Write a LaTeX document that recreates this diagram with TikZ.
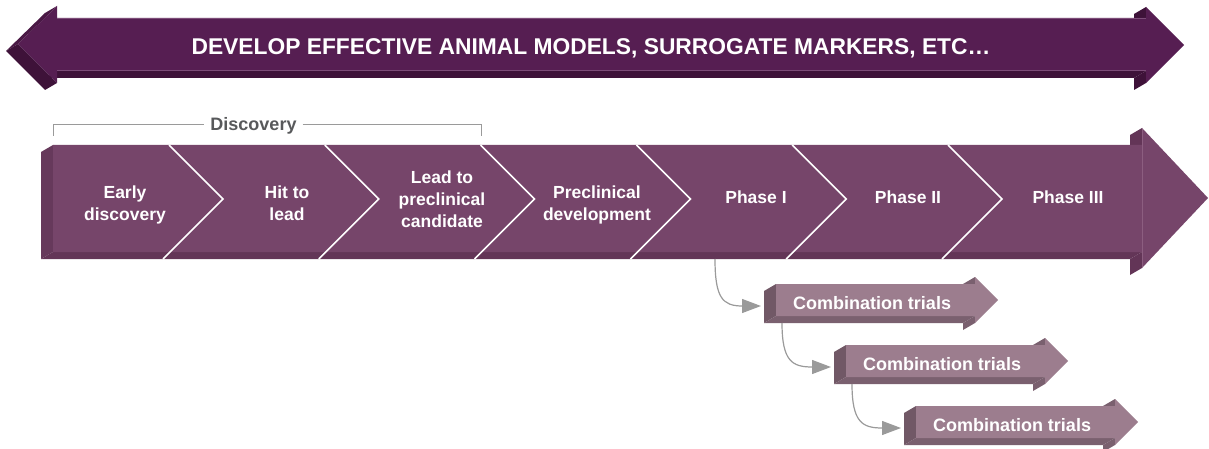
\documentclass[tikz,border=0pt]{standalone}
\usepackage{fontspec}
\setmainfont{Liberation Sans}
\usetikzlibrary{arrows.meta}
\definecolor{topface}{HTML}{561E52}
\definecolor{topdark}{HTML}{3E1239}
\definecolor{topmid}{HTML}{4A1945}
\definecolor{topedge}{HTML}{7C4C78}
\definecolor{barface}{HTML}{76456A}
\definecolor{barside}{HTML}{66395B}
\definecolor{barbot}{HTML}{633557}
\definecolor{baredge}{HTML}{8C5E80}
\definecolor{boxface}{HTML}{9C7D8E}
\definecolor{boxside}{HTML}{715866}
\definecolor{boxbot}{HTML}{7A606F}
\definecolor{connc}{HTML}{9A9A9A}
\definecolor{disctext}{HTML}{58595B}
\tikzset{
  titletext/.style={font={\fontsize{22.8}{27}\selectfont\bfseries}, text=white, inner sep=0pt},
  bartext/.style={font={\fontsize{17.5}{22}\selectfont\bfseries}, text=white, align=center, inner sep=0pt},
  combotext/.style={font={\fontsize{18}{22}\selectfont\bfseries}, text=white, inner sep=0pt, anchor=base},
  disclabel/.style={font={\fontsize{18}{22}\selectfont\bfseries}, text=disctext, inner xsep=6pt, inner ysep=0pt, anchor=base},
  bracket/.style={draw=connc, line width=1pt},
  chev/.style={draw=white, line width=1.6pt},
  conn/.style={draw=connc, line width=1.2pt, -{Triangle[length=19pt,width=14pt]}},
}
\newcommand{\drawcombo}[2]{%
\begin{scope}[shift={#1}]
\fill[boxside] (776,284)--(776,316)--(764,323)--(764,291)--cycle;
\fill[boxbot] (776,316)--(975,316)--(963,323)--(764,323)--cycle;
\fill[boxbot] (975,277)--(975,284)--(963,291)--(963,284)--cycle;
\fill[boxbot] (975,316)--(975,323)--(963,330)--(963,323)--cycle;
\fill[boxface] (776,284)--(975,284)--(975,277)--(998,300)--(975,323)--(975,316)--(776,316)--cycle;
\node[combotext] (#2) at (872,309) {Combination trials};
\coordinate (#2in) at (761,306);
\coordinate (#2out) at (782,323);
\end{scope}}
\begin{document}
\begin{tikzpicture}[x=1pt,y=-1pt]
\useasboundingbox (0,0) rectangle (1209,449);
% ---------- top double arrow ----------
\fill[topmid] (57,6)--(18,44)--(6,51)--(45,13)--cycle;
\fill[topdark] (18,44)--(57,83)--(45,90)--(6,51)--cycle;
\fill[topdark] (57,71)--(1146,71)--(1134,78)--(45,78)--cycle;
\fill[topdark] (1146,7)--(1146,18)--(1134,25)--(1134,14)--cycle;
\fill[topdark] (1146,71)--(1146,83)--(1134,90)--(1134,78)--cycle;
\fill[topface] (18,44)--(57,6)--(57,18)--(1146,18)--(1146,7)--(1184,45)--(1146,83)--(1146,71)--(57,71)--(57,83)--cycle;
\draw[topedge, line width=0.7pt] (57,18.3)--(1146,18.3) (57,70.7)--(1146,70.7);
\node[titletext, anchor=base] (title) at (591,54.5) {DEVELOP EFFECTIVE ANIMAL MODELS, SURROGATE MARKERS, ETC…};
% ---------- discovery bracket ----------
\coordinate (dl) at (53,125);
\coordinate (dr) at (481,125);
\node[disclabel] (disc) at (253.5,131) {Discovery};
\draw[bracket] (53,136) -- (dl) -- (disc.west |- dl);
\draw[bracket] (disc.east |- dr) -- (dr) -- (481,136);
% ---------- main pipeline bar ----------
\fill[barside] (53,145)--(53,252)--(41,259)--(41,152)--cycle;
\fill[barbot] (53,252)--(1142,252)--(1130,259)--(41,259)--cycle;
\fill[barbot] (1142,128)--(1142,145)--(1130,152)--(1130,135)--cycle;
\fill[barbot] (1142,252)--(1142,268)--(1130,275)--(1130,259)--cycle;
\fill[barface] (53,145)--(1142,145)--(1142,128)--(1208,198)--(1142,268)--(1142,252)--(53,252)--cycle;
\draw[baredge, line width=0.6pt] (1142,129)--(1142,267);
\foreach \x in {169,324.8,480.6,636.4,792.2,948} {
  \draw[chev] (\x,145) -- ({\x+54},199) -- ({\x-6},259);
}
\node[bartext, anchor=north] (s1) at (125,185.2) {Early\\discovery};
\node[bartext, anchor=north] (s2) at (287,185.3) {Hit to\\lead};
\node[bartext, anchor=north] (s3) at (442,170.2) {Lead to\\preclinical\\candidate};
\node[bartext, anchor=north] (s4) at (597,185.2) {Preclinical\\development};
\node[bartext, anchor=base] (s5) at (756,204) {Phase I};
\node[bartext, anchor=base] (s6) at (908,204) {Phase II};
\node[bartext, anchor=base] (s7) at (1068,204) {Phase III};
\coordinate (p1out) at (715,259);
% ---------- combination trials ----------
\drawcombo{(0,0)}{combo1}
\drawcombo{(70,61)}{combo2}
\drawcombo{(140,122)}{combo3}
\draw[conn] (p1out) to[out=-90,in=180,looseness=1.5] (combo1in);
\draw[conn] (combo1out) to[out=-90,in=180,looseness=1.5] (combo2in);
\draw[conn] (combo2out) to[out=-90,in=180,looseness=1.5] (combo3in);
\end{tikzpicture}
\end{document}
